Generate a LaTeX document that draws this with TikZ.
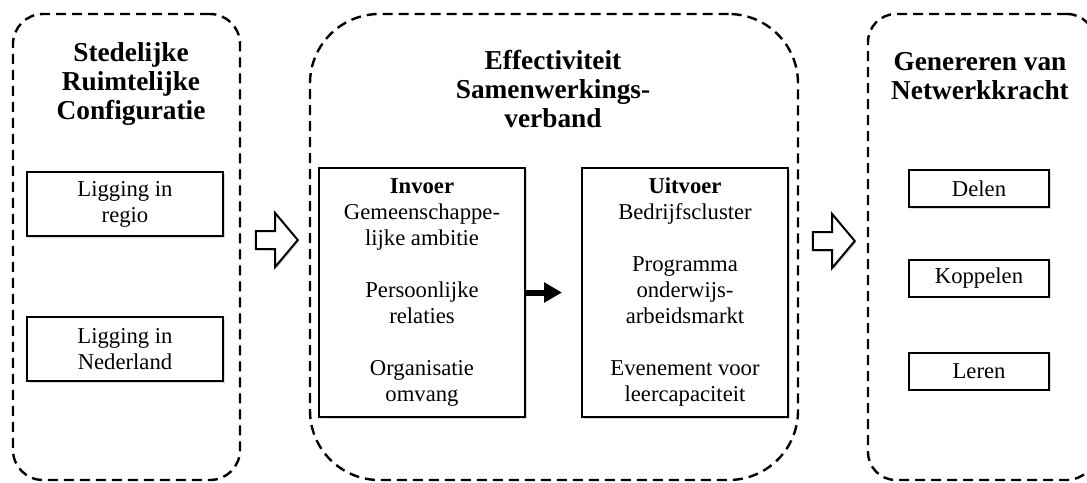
\documentclass[tikz,border=0pt]{standalone}
\usepackage{fontspec}
\setmainfont{Liberation Serif}
\usetikzlibrary{shapes.arrows,arrows.meta,shadows}
\tikzstyle{container} = [draw, rectangle, line width=1.8pt, dash pattern=on 7.5pt off 4.5pt, minimum height=349.5pt]
\tikzstyle{heading} = [align=center, font=\fontsize{20.5}{21.75}\selectfont\bfseries]
\tikzstyle{itembox} = [draw, rectangle, fill=white, line width=1.5pt, align=center, font=\fontsize{17}{19.5}\selectfont, drop shadow={shadow xshift=1.2pt, shadow yshift=-1.2pt, opacity=0.3}]
\tikzstyle{bigarrow} = [single arrow, draw, fill=white, line width=1.5pt, inner xsep=0pt, inner ysep=6pt, minimum height=31.5pt, single arrow head extend=13.5pt, single arrow tip angle=100, drop shadow={shadow xshift=1.2pt, shadow yshift=-1.2pt, opacity=0.3}]
\tikzstyle{linkarrow} = [-{Triangle[length=13.5pt,width=14.5pt]}, line width=4.5pt, shorten >=14.25pt]

\begin{document}
\begin{tikzpicture}[x=0.75pt, y=-0.75pt]
		\useasboundingbox (0,0) rectangle (1087,482);
		\node (configbox) [container, minimum width=170.25pt, rounded corners=22.5pt] at (126.5,247) {};
		\node (samenbox) [container, minimum width=366pt, rounded corners=52pt] at (554,247) {};
		\node (netbox) [container, minimum width=170.25pt, rounded corners=21pt] at (981.5,247) {};
		\node (configtitle) [heading] at (131,84) {Stedelijke\\Ruimtelijke\\Configuratie};
		\node (samentitle) [heading] at (553,89) {Effectiviteit\\Samenwerkings-\\verband};
		\node (nettitle) [heading] at (980,76) {Genereren van\\Netwerkkracht};
		\node (regio) [itembox, minimum width=147pt, minimum height=48pt] at (125,204) {Ligging in\\regio};
		\node (nederland) [itembox, minimum width=147pt, minimum height=48pt] at (125,349) {Ligging in\\Nederland};
		\node (invoer) [itembox, minimum width=154.5pt, minimum height=186.75pt] at (422,292.5) {\textbf{Invoer}\\Gemeenschappe-\\lijke ambitie\\[19.5pt]Persoonlijke\\relaties\\[19.5pt]Organisatie\\omvang};
		\node (uitvoer) [itembox, minimum width=154.5pt, minimum height=186.75pt] at (685,292.5) {\textbf{Uitvoer}\\Bedrijfscluster\\[19.5pt]Programma\\onderwijs-\\arbeidsmarkt\\[19.5pt]Evenement voor\\leercapaciteit};
		\node (delen) [itembox, minimum width=105pt, minimum height=27.75pt] at (979,188.5) {Delen};
		\node (koppelen) [itembox, minimum width=105pt, minimum height=27.75pt] at (979,278) {Koppelen};
		\node (leren) [itembox, minimum width=105pt, minimum height=27.75pt] at (979,371) {Leren};
		\node (flowin) [bigarrow] at (273,240) {};
		\node (flowout) [bigarrow] at (830,241) {};
		\draw [linkarrow] (invoer) -- (uitvoer);
	\end{tikzpicture}
\end{document}
